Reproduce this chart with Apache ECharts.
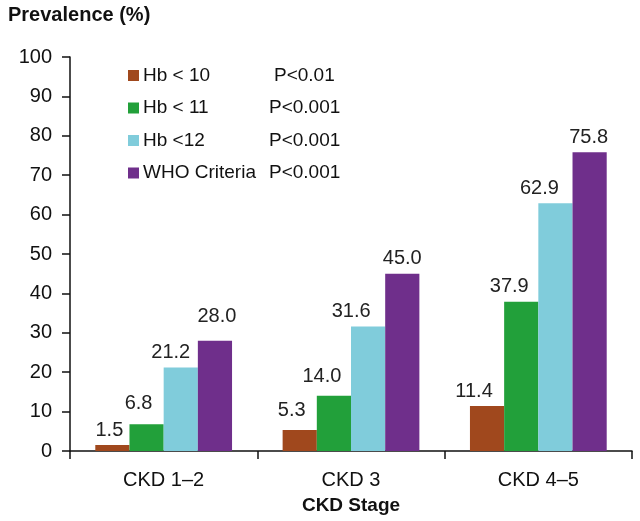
<!DOCTYPE html>
<html><head><meta charset="utf-8">
<script src="https://cdn.jsdelivr.net/npm/echarts@6/dist/echarts.min.js"></script>
<style>html,body{margin:0;padding:0;background:#fff}#c{width:640px;height:521px}</style>
</head><body><div id="c"></div>
<script>
const categories = ['CKD 1\u20132', 'CKD 3', 'CKD 4\u20135'];
const seriesNames = ['Hb < 10', 'Hb < 11', 'Hb <12', 'WHO Criteria'];
const pValues = ['P<0.01', 'P<0.001', 'P<0.001', 'P<0.001'];
const hb10 = [1.5, 5.3, 11.4];
const hb11 = [6.8, 14.0, 37.9];
const hb12 = [21.2, 31.6, 62.9];
const who = [28.0, 45.0, 75.8];
const yTicks = [0, 10, 20, 30, 40, 50, 60, 70, 80, 90, 100];

// styling (label nudges as in the original figure)
const colors = ['#A0481D', '#22A03A', '#80CCDB', '#6F2F8B'];
const labelShiftX = [[-3, -8, -13], [-8, -12, -12], [-10, -17, -16], [2, 0, -1]];
const labelLiftY = [[0, 5, 0], [6, 4, 0], [0, 0, 0], [9, 0, 0]];
const nameWidths = [131, 126, 126, 126];

const font = 'Liberation Sans, Arial, sans-serif';
const allData = [hb10, hb11, hb12, who];
const chart = echarts.init(document.getElementById('c'));
chart.setOption({
  animation: false,
  textStyle: {fontFamily: font},
  title: {text: 'Prevalence (%)', left: 8, top: 5, padding: 0,
    textStyle: {fontFamily: font, fontWeight: 'bold', fontSize: 20, color: '#111'}},
  legend: {
    orient: 'vertical', left: 128, top: 66, padding: 0, itemWidth: 11, itemHeight: 11, itemGap: 13.5,
    icon: 'rect', data: seriesNames,
    formatter: function (n) {
      const i = seriesNames.indexOf(n);
      return '{n' + i + '|' + n + '}{p|' + pValues[i] + '}';
    },
    textStyle: {
      fontFamily: font, fontSize: 19, color: '#111', padding: [0, 0, 0, -1],
      rich: Object.assign({
        p: {fontFamily: font, fontSize: 19, color: '#111', height: 20}
      }, Object.fromEntries(nameWidths.map((w, i) => ['n' + i,
        {fontFamily: font, fontSize: 19, color: '#111', width: w, height: 20}])))
    }
  },
  grid: {left: 70, right: 8, top: 57, bottom: 70, containLabel: false},
  xAxis: {
    type: 'category', data: categories,
    name: 'CKD Stage', nameLocation: 'middle', nameGap: 45,
    nameTextStyle: {fontFamily: font, fontWeight: 'bold', fontSize: 19, color: '#111'},
    axisLine: {lineStyle: {color: '#111', width: 1.5}},
    axisTick: {show: true, length: 8, lineStyle: {color: '#111', width: 1.5}},
    axisLabel: {fontFamily: font, fontSize: 20, color: '#111', margin: 19}
  },
  yAxis: {
    type: 'value', min: yTicks[0], max: yTicks[yTicks.length - 1], interval: 10,
    axisLine: {show: true, lineStyle: {color: '#111', width: 1.5}},
    axisTick: {show: true, length: 8, lineStyle: {color: '#111', width: 1.5}},
    axisLabel: {fontFamily: font, fontSize: 20, color: '#111', margin: 18},
    splitLine: {show: false}
  },
  series: seriesNames.map((n, i) => ({
    name: n, type: 'bar', barGap: '0%', barCategoryGap: '27%',
    itemStyle: {color: colors[i]},
    data: allData[i].map((v, j) => ({
      value: v,
      label: {offset: [labelShiftX[i][j], -labelLiftY[i][j]]}
    })),
    label: {show: true, position: 'top', distance: 5, fontFamily: font, fontSize: 20, color: '#222',
      formatter: p => p.value.toFixed(1)}
  }))
});
</script></body></html>
